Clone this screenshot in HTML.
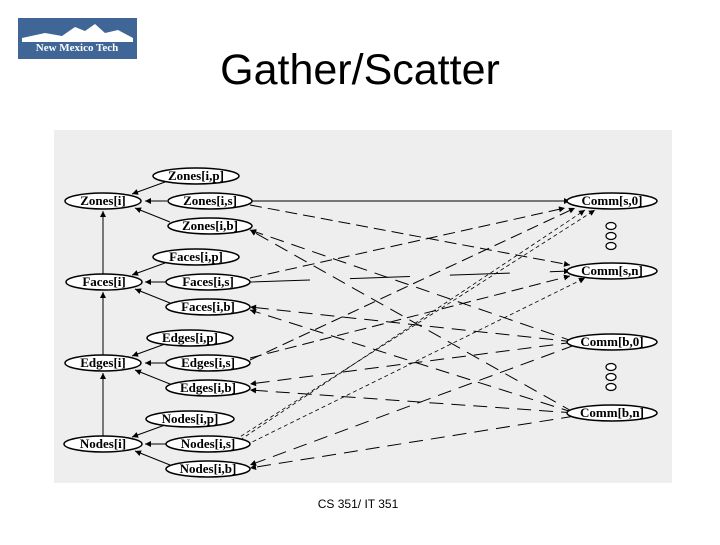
<!DOCTYPE html>
<html><head><style>
body{margin:0;width:720px;height:540px;background:#fff;overflow:hidden;font-family:"Liberation Sans",sans-serif}
</style></head><body>
<svg width="720" height="540" viewBox="0 0 720 540" xmlns="http://www.w3.org/2000/svg">
<defs><marker id="a" viewBox="0 0 10 10" refX="10" refY="5" markerWidth="11" markerHeight="6" orient="auto-start-reverse" markerUnits="userSpaceOnUse"><path d="M0,0L10,5L0,10z" fill="#000"/></marker></defs>
<rect x="18" y="18" width="119" height="41" fill="#3f6696"/>
<path d="M22,38 L45,33 L62,36 L75,27 L85,31 L95,24 L105,33 L118,30 L133,38 L133,42 L22,42z" fill="#fff"/>
<text x="77" y="51" font-family="Liberation Serif" font-weight="bold" font-size="11" fill="#fff" text-anchor="middle">New Mexico Tech</text>
<text x="360" y="84" font-size="43" text-anchor="middle">Gather/Scatter</text>
<rect x="54" y="130" width="618" height="353" fill="#eeeeee"/>
<g stroke="#000" stroke-width="1" fill="none">
<line x1="103" y1="436" x2="103" y2="373" marker-end="url(#a)"/>
<line x1="103" y1="355" x2="103" y2="292" marker-end="url(#a)"/>
<line x1="103" y1="274" x2="103" y2="211" marker-end="url(#a)"/>
<g id="loc">
<line x1="165" y1="182" x2="132" y2="194" marker-end="url(#a)"/>
<line x1="167" y1="201" x2="145" y2="201" marker-end="url(#a)"/>
<line x1="170" y1="222" x2="135" y2="208" marker-end="url(#a)"/>
</g>
<use href="#loc" y="81"/><use href="#loc" y="162"/><use href="#loc" y="243"/>
<line x1="252" y1="201" x2="570" y2="201" marker-end="url(#a)"/>
<line x1="250" y1="282" x2="570" y2="271" stroke-dasharray="60 40" marker-end="url(#a)"/>
<g stroke-dasharray="12 6">
<line x1="250" y1="205" x2="570" y2="265" marker-end="url(#a)"/>
<line x1="250" y1="278" x2="565" y2="208" marker-end="url(#a)"/>
<line x1="250" y1="358" x2="570" y2="276" marker-end="url(#a)"/>
<line x1="250" y1="360" x2="575" y2="208" marker-end="url(#a)"/>
</g>
<g stroke-dasharray="4 3" stroke-width="0.8">
<line x1="240" y1="440" x2="585" y2="210" marker-end="url(#a)"/>
<line x1="235" y1="440" x2="595" y2="210" marker-end="url(#a)"/>
<line x1="240" y1="448" x2="585" y2="278" marker-end="url(#a)"/>
</g>
<g stroke-dasharray="14 8">
<line x1="575" y1="342" x2="250" y2="230" marker-end="url(#a)"/>
<line x1="575" y1="413" x2="250" y2="230" marker-end="url(#a)"/>
<line x1="575" y1="342" x2="250" y2="307" marker-end="url(#a)"/>
<line x1="575" y1="413" x2="250" y2="310" marker-end="url(#a)"/>
<line x1="575" y1="342" x2="250" y2="384" marker-end="url(#a)"/>
<line x1="575" y1="413" x2="250" y2="390" marker-end="url(#a)"/>
<line x1="575" y1="345" x2="250" y2="465" marker-end="url(#a)"/>
<line x1="575" y1="416" x2="250" y2="468" marker-end="url(#a)"/>
</g>
</g>
<g fill="#fff" stroke="#000" stroke-width="1.5">
<ellipse cx="196" cy="176" rx="43" ry="8"/><ellipse cx="103" cy="201" rx="38" ry="8"/><ellipse cx="210" cy="201" rx="42" ry="8"/><ellipse cx="210" cy="226" rx="42" ry="8"/>
<ellipse cx="196" cy="257" rx="43" ry="8"/><ellipse cx="104" cy="282" rx="38" ry="8"/><ellipse cx="208" cy="282" rx="42" ry="8"/><ellipse cx="208" cy="307" rx="42" ry="8"/>
<ellipse cx="190" cy="338" rx="43" ry="8"/><ellipse cx="103" cy="363" rx="38" ry="8"/><ellipse cx="208" cy="363" rx="42" ry="8"/><ellipse cx="208" cy="388" rx="42" ry="8"/>
<ellipse cx="190" cy="419" rx="44" ry="8"/><ellipse cx="103" cy="444" rx="39" ry="8"/><ellipse cx="208" cy="444" rx="42" ry="8"/><ellipse cx="208" cy="469" rx="42" ry="8"/>
<ellipse cx="612" cy="201" rx="45" ry="8"/><ellipse cx="612" cy="271" rx="45" ry="8"/><ellipse cx="612" cy="342" rx="45" ry="8"/><ellipse cx="612" cy="413" rx="45" ry="8"/>
<g stroke-width="1.2"><ellipse cx="611" cy="226" rx="5" ry="3.5"/><ellipse cx="611" cy="236" rx="5" ry="3.5"/><ellipse cx="611" cy="246" rx="5" ry="3.5"/><ellipse cx="611" cy="367" rx="5" ry="3.5"/><ellipse cx="611" cy="377" rx="5" ry="3.5"/><ellipse cx="611" cy="387" rx="5" ry="3.5"/></g>
</g>
<g font-family="Liberation Serif" font-size="13" font-weight="bold" text-anchor="middle">
<text x="196" y="180">Zones[i,p]</text><text x="103" y="205">Zones[i]</text><text x="210" y="205">Zones[i,s]</text><text x="210" y="230">Zones[i,b]</text>
<text x="196" y="261">Faces[i,p]</text><text x="104" y="286">Faces[i]</text><text x="208" y="286">Faces[i,s]</text><text x="208" y="311">Faces[i,b]</text>
<text x="190" y="342">Edges[i,p]</text><text x="103" y="367">Edges[i]</text><text x="208" y="367">Edges[i,s]</text><text x="208" y="392">Edges[i,b]</text>
<text x="190" y="423">Nodes[i,p]</text><text x="103" y="448">Nodes[i]</text><text x="208" y="448">Nodes[i,s]</text><text x="208" y="473">Nodes[i,b]</text>
<text x="612" y="205">Comm[s,0]</text><text x="612" y="275">Comm[s,n]</text><text x="612" y="346">Comm[b,0]</text><text x="612" y="417">Comm[b,n]</text>
</g>
<text x="358" y="508" font-size="12" text-anchor="middle">CS 351/ IT 351</text>
</svg>
</body></html>
